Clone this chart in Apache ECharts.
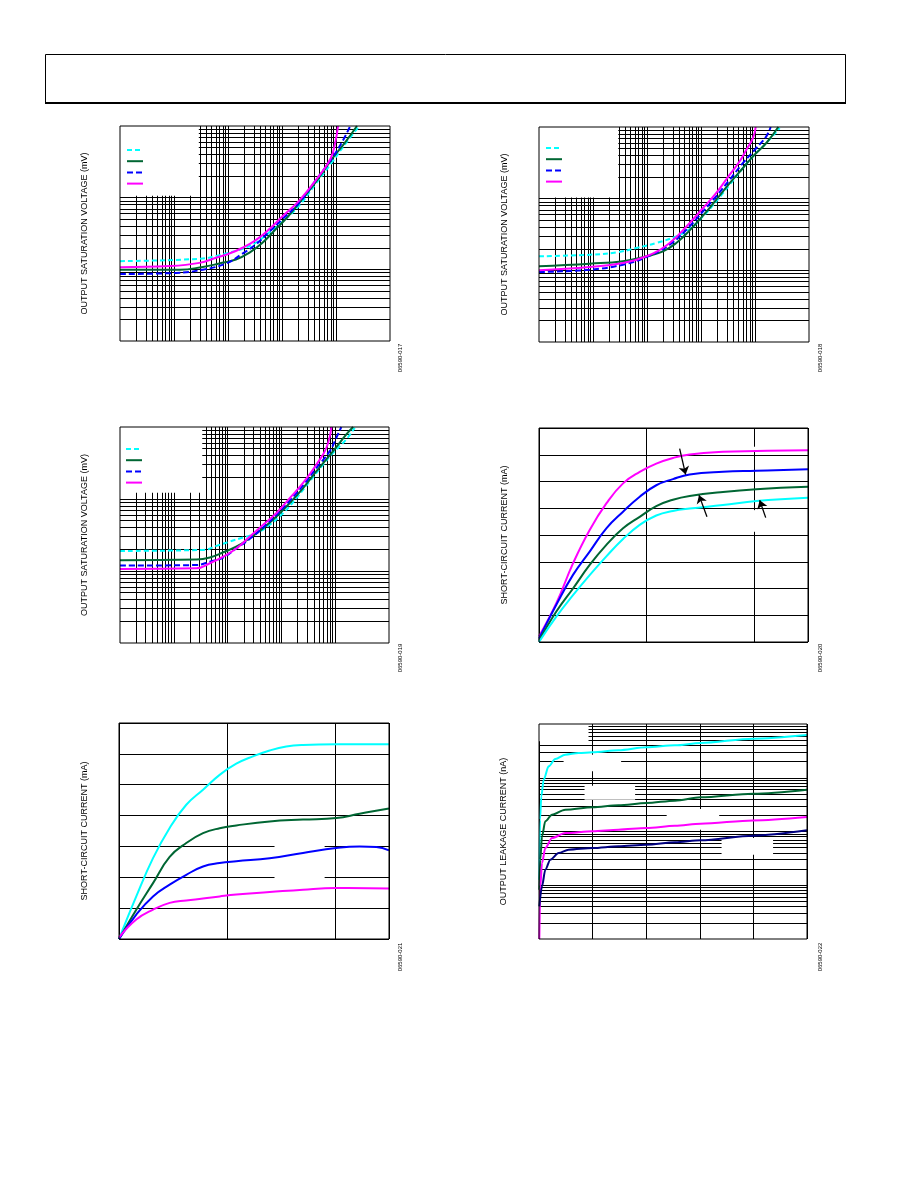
<!DOCTYPE html>
<html><head><meta charset="utf-8">
<script src="https://cdn.jsdelivr.net/npm/echarts@6/dist/echarts.min.js"></script>
<style>html,body{margin:0;padding:0;background:#fff}#c{width:918px;height:1188px}</style>
</head><body><div id="c"></div>
<script>
// ---------------- DATA ----------------
// Chart 1: output saturation voltage (mV) vs load current (mA), log-log
const vsat1Cyan    = [[0.001,13.0],[0.0296,14.0],[0.06,15.3],[0.0918,16.6],[0.186,19.4],[0.327,23.5],[0.577,32.5],[1.01,45.8],[2.06,76.9],[4.17,155],[8.44,312],[14.9,564],[26.1,967]];
const vsat1Green   = [[0.001,9.9],[0.0127,9.9],[0.0342,10.8],[0.0692,12.05],[0.14,13.7],[0.247,17.0],[0.435,23.5],[0.764,36.2],[1.35,56.9],[2.37,95.3],[4.17,163],[8.44,347],[14.9,596],[24.4,1000]];
const vsat1Blue    = [[0.001,8.6],[0.011,8.9],[0.0342,9.9],[0.0918,12.05],[0.186,16.6],[0.327,22.3],[0.577,33.2],[1.01,50],[2.06,83.8],[4.17,173],[8.44,355],[12.9,596],[18.4,1000]];
const vsat1Magenta = [[0.001,10.7],[0.0083,11.1],[0.0296,12.3],[0.06,14.5],[0.106,16.6],[0.186,20],[0.327,25.6],[0.577,36.2],[1.01,54.5],[2.06,90.4],[4.17,173],[7.87,347],[9.72,596],[10.9,1000]];
// Chart 2
const vsat2Cyan    = [[0.001,15.7],[0.0087,16.5],[0.027,17.8],[0.0634,20.5],[0.149,24.1],[0.349,29.8],[0.617,37.7],[1.09,56.7],[1.92,91.8],[3.40,157],[6.0,268],[9.19,390],[16.2,598],[28.6,968]];
const vsat2Green   = [[0.001,11.4],[0.0087,12.4],[0.0359,13.4],[0.0972,15.7],[0.198,18.4],[0.349,24.1],[0.617,36.1],[1.09,57.9],[1.92,96.8],[3.40,165],[6.0,268],[9.19,390],[16.2,598],[27.0,1000]];
const vsat2Blue    = [[0.001,9.48],[0.0087,10.2],[0.0359,12.0],[0.0972,15.3],[0.263,22.8],[0.617,41.1],[1.09,66.6],[1.92,108],[3.40,184],[6.0,315],[10.6,509],[16.2,741],[19.5,1000]];
const vsat2Magenta = [[0.001,10],[0.0087,11.1],[0.0359,12.7],[0.0972,15.7],[0.263,24.1],[0.617,45.8],[1.09,74.1],[1.92,120],[3.40,216],[5.2,332],[6.92,483],[9.19,703],[10.3,1000]];
// Chart 3
const vsat3Cyan    = [[0.001,19.0],[0.0352,19.6],[0.0623,22.3],[0.110,25.7],[0.195,29.2],[0.344,33.5],[0.609,43.9],[1.08,63.8],[1.91,103],[3.37,176],[5.95,301],[9.13,438],[16.1,673],[23.0,979]];
const vsat3Green   = [[0.001,14.1],[0.0265,14.4],[0.0469,15.4],[0.0829,18.2],[0.147,21.9],[0.259,28.6],[0.458,39.4],[0.810,57.3],[1.43,87.9],[2.53,142],[4.48,243],[9.13,462],[16.1,790],[21.5,1000]];
const vsat3Blue    = [[0.001,11.9],[0.0265,12.1],[0.0469,13.5],[0.0829,15.4],[0.147,20.7],[0.259,28.0],[0.458,40.2],[0.810,60.4],[1.43,94.8],[2.53,155],[4.48,271],[7.92,462],[10.5,710],[13.0,1000]];
const vsat3Magenta = [[0.001,10.7],[0.0265,10.9],[0.0469,12.8],[0.0829,15.8],[0.147,20.7],[0.259,30.1],[0.458,43.9],[0.810,63.8],[1.43,103],[2.53,167],[4.48,301],[6.87,515],[8.50,1000]];
// Chart 4: short-circuit current (mA), linear
const isc1Magenta = [[0,2.1],[0.161,14.5],[0.316,29.4],[0.471,41.9],[0.626,51.8],[0.781,59.3],[0.936,63.6],[1.090,66.7],[1.245,68.8],[1.400,70.1],[1.710,71.1],[2.020,71.4],[2.5,71.7]];
const isc1Blue    = [[0,1.2],[0.161,13.9],[0.316,25.1],[0.471,33.8],[0.626,42.5],[0.781,48.7],[0.936,54.3],[1.090,58.6],[1.245,60.9],[1.400,62.6],[1.710,63.6],[2.020,64.0],[2.5,64.6]];
const isc1Green   = [[0,0.5],[0.161,11.4],[0.316,20.0],[0.471,28.8],[0.626,36.3],[0.781,42.5],[0.936,46.8],[1.090,50.8],[1.245,53.2],[1.400,54.6],[1.710,56.1],[2.020,57.1],[2.5,58.0]];
const isc1Cyan    = [[0,0],[0.161,9.5],[0.316,17.5],[0.471,25.0],[0.626,32.0],[0.781,38.5],[0.936,43.8],[1.090,47.3],[1.245,49.0],[1.400,49.9],[1.710,51.2],[2.020,52.7],[2.5,53.9]];
const isc1Arrows  = [[[1.307,72.3],[1.363,62.6]],[[1.561,46.8],[1.487,54.9]],[[2.107,46.5],[2.051,53.0]]];
// Chart 5: short-circuit current (mA), linear
const isc2Cyan    = [[0,0],[0.160,13.8],[0.315,26.2],[0.469,36.0],[0.623,43.5],[0.778,48.4],[0.932,53.2],[1.086,56.8],[1.241,59.2],[1.395,61.1],[1.549,62.4],[1.704,62.9],[2.012,63.1],[2.5,63.1]];
const isc2Green   = [[0,0],[0.160,9.5],[0.315,18.1],[0.469,26.6],[0.623,31.1],[0.778,34.3],[0.932,35.9],[1.086,36.8],[1.395,38.1],[1.704,38.7],[2.012,39.2],[2.228,40.6],[2.5,42.3]];
const isc2Blue    = [[0,0],[0.160,7.9],[0.315,13.8],[0.469,17.6],[0.623,20.8],[0.778,23.5],[0.932,24.6],[1.086,25.2],[1.395,26.2],[1.704,27.9],[2.012,29.5],[2.228,30.0],[2.383,29.8],[2.5,28.7]];
const isc2Magenta = [[0,0.5],[0.160,6.3],[0.315,9.5],[0.469,11.7],[0.623,12.5],[0.778,13.1],[0.932,13.8],[1.086,14.4],[1.395,15.2],[1.704,16.0],[2.012,16.5],[2.5,16.4]];
// Chart 6: output leakage current (nA), log y
const leakCyan    = [[0.062,12.7],[0.186,166],[0.434,451],[0.868,921],[1.80,1630],[3.04,2233],[4.90,2688],[7.38,2886],[9.99,2969],[14.83,3236],[20.04,3681],[25.37,4010],[30.15,4433],[39.95,5336],[50,6240]];
const leakGreen   = [[0.062,8.28],[0.248,29.9],[0.558,81.3],[1.18,155],[2.42,206],[4.90,255],[9.99,282],[14.83,307],[20.04,339],[25.37,375],[30.15,432],[39.95,506],[50,600]];
const leakMagenta = [[0.062,1.0],[0.248,9.55],[0.558,25.9],[1.18,49.3],[2.42,75.7],[4.90,93.8],[9.99,101],[14.83,108],[20.04,116],[25.37,128],[30.15,140],[39.95,161],[50,186]];
const leakNavy    = [[0.062,4.05],[0.558,9.55],[1.18,19.5],[2.11,29.9],[3.66,39.8],[5.52,45.9],[9.99,49.3],[14.83,53.0],[20.04,56.9],[25.37,63],[30.15,68.5],[39.95,83.6],[50,105]];

// Text
const yTitles = ['OUTPUT SATURATION VOLTAGE (mV)','OUTPUT SATURATION VOLTAGE (mV)','OUTPUT SATURATION VOLTAGE (mV)','SHORT-CIRCUIT CURRENT (mA)','SHORT-CIRCUIT CURRENT (mA)','OUTPUT LEAKAGE CURRENT (nA)'];
const figureIds = ['06590-017','06590-018','06590-019','06590-020','06590-021','06590-022'];

// ---------------- LAYOUT / STYLE ----------------
const FONT = 'Liberation Sans, Arial, Helvetica, sans-serif';
const CYAN='#00FFFF', GREEN='#006633', BLUE='#0000FF', MAGENTA='#FF00FF', NAVY='#000080';
const gridBoxes = [
  {left:120, top:126, width:270, height:215},
  {left:539, top:127, width:270, height:215},
  {left:120, top:427, width:269, height:216},
  {left:539, top:428, width:269, height:214},
  {left:119, top:723, width:270, height:216},
  {left:539, top:724, width:268, height:215}
];
const nameGaps = [31, 30, 31, 30, 30, 31];
const idPos = [[400,358],[820,358],[400,658],[820,658],[400,957],[820,957]];
// white label masks (blank label areas) in data coordinates [x1,y1,x2,y2]
const masks = {
  0: [[0.001,106,0.0288,1000]],
  1: [[0.001,104,0.0294,1000]],
  2: [[0.001,122,0.0338,1000]],
  3: [[1.98,41.2,2.02,49.3],[1.98,71.6,2.02,73.0]],
  4: [[1.44,19.5,1.904,30.5]],
  5: [[0,4760,9.24,10000],[4.59,1316,15.32,2690],[8.50,391,17.93,713],[23.82,108,33.62,262],[34.06,37.1,43.67,75.7]]
};

function logGridValues(minExp, maxExp, minorMaxExp) {
  const v = [];
  for (let e = minExp; e < maxExp; e++) {
    const base = Math.pow(10, e);
    if (e > minExp) v.push(+base.toPrecision(6));
    if (e < minorMaxExp) for (let m = 2; m <= 9; m++) v.push(+(m * base).toPrecision(6));
  }
  return v;
}

function curve(name, data, color, dash, gi, monotone) {
  const s = {name, type:'line', xAxisIndex:gi, yAxisIndex:gi, data, smooth: monotone ? 0.3 : 0.45,
    symbol:'none', showSymbol:false, z:3, silent:true, animation:false, clip:true,
    lineStyle:{color, width:2, type: dash || 'solid', cap:'butt'}, itemStyle:{color},
    emphasis:{disabled:true}};
  if (monotone) s.smoothMonotone = 'x';
  return s;
}
function gridLines(gi, xs, ys) {
  return {type:'line', xAxisIndex:gi, yAxisIndex:gi, data:[], z:1, silent:true, animation:false,
    markLine:{z:1, silent:true, animation:false, precision:12, symbol:['none','none'], label:{show:false},
      emphasis:{disabled:true}, lineStyle:{color:'#000', width:1, type:'solid', opacity:1},
      data:[...xs.map(v => ({xAxis:v})), ...ys.map(v => ({yAxis:v}))]}};
}
function maskSeries(gi) {
  return {type:'custom', xAxisIndex:gi, yAxisIndex:gi, z:2, silent:true, animation:false, clip:true,
    data: masks[gi], encode:{x:[0,2], y:[1,3]},
    renderItem: (params, api) => {
      const p1 = api.coord([api.value(0), api.value(1)]);
      const p2 = api.coord([api.value(2), api.value(3)]);
      return {type:'rect', silent:true,
        shape:{x:Math.min(p1[0],p2[0]), y:Math.min(p1[1],p2[1]), width:Math.abs(p2[0]-p1[0]), height:Math.abs(p2[1]-p1[1])},
        style:{fill:'#ffffff', stroke:null}};
    }};
}

const grid = gridBoxes.map(g => Object.assign({show:true, borderColor:'#000', borderWidth:1,
  backgroundColor:'transparent', z:10, containLabel:false, outerBoundsMode:'none'}, g));

const hidden = {axisLine:{show:false}, axisTick:{show:false}, axisLabel:{show:false}};
const blackSplit = {show:true, lineStyle:{color:'#000', width:1}};
const xAxis = [], yAxis = [];
for (let i = 0; i < 3; i++) {
  xAxis.push(Object.assign({type:'log', logBase:10, min:0.001, max:100, gridIndex:i, splitLine:{show:false}}, hidden));
}
xAxis.push(Object.assign({type:'value', min:0, max:2.5, interval:1, gridIndex:3, splitLine:blackSplit}, hidden));
xAxis.push(Object.assign({type:'value', min:0, max:2.5, interval:1, gridIndex:4, splitLine:blackSplit}, hidden));
xAxis.push(Object.assign({type:'value', min:0, max:50, interval:10, gridIndex:5, splitLine:blackSplit}, hidden));
const yCfg = [
  {type:'log', logBase:10, min:1, max:1000, splitLine:{show:false}},
  {type:'log', logBase:10, min:1, max:1000, splitLine:{show:false}},
  {type:'log', logBase:10, min:1, max:1000, splitLine:{show:false}},
  {type:'value', min:0, max:80, interval:10, splitLine:blackSplit},
  {type:'value', min:0, max:70, interval:10, splitLine:blackSplit},
  {type:'log', logBase:10, min:1, max:10000, splitLine:{show:false}}
];
yCfg.forEach((c, i) => {
  yAxis.push(Object.assign({gridIndex:i, name:yTitles[i], nameLocation:'middle', nameGap:nameGaps[i],
    nameTextStyle:{fontFamily:FONT, fontSize:9, color:'#000'}}, hidden, c));
});

const satX = logGridValues(-3, 2, 1);
const satY = logGridValues(0, 3, 3);
const leakY = logGridValues(0, 4, 4);

const series = [];
series.push(gridLines(0, satX, satY), gridLines(1, satX, satY), gridLines(2, satX, satY), gridLines(5, [], leakY));
for (let i = 0; i < 6; i++) series.push(maskSeries(i));
const satSets = [
  [vsat1Cyan, vsat1Green, vsat1Blue, vsat1Magenta],
  [vsat2Cyan, vsat2Green, vsat2Blue, vsat2Magenta],
  [vsat3Cyan, vsat3Green, vsat3Blue, vsat3Magenta]
];
const satStyles = [[CYAN,[5,3]],[GREEN,null],[BLUE,[6,3]],[MAGENTA,null]];
const legendNames = [];
satSets.forEach((set, gi) => {
  const names = [];
  set.forEach((d, k) => {
    const nm = 'fig' + (gi + 1) + '-trace' + (k + 1);
    names.push({name:nm, lineStyle:{color:satStyles[k][0], width:2, type:satStyles[k][1] || 'solid', opacity:1}, itemStyle:{opacity:0}});
    series.push(curve(nm, d, satStyles[k][0], satStyles[k][1], gi, false));
  });
  legendNames.push(names);
});
series.push(curve('fig4-magenta', isc1Magenta, MAGENTA, null, 3, false));
series.push(curve('fig4-blue', isc1Blue, BLUE, null, 3, false));
series.push(curve('fig4-green', isc1Green, GREEN, null, 3, false));
series.push(curve('fig4-cyan', isc1Cyan, CYAN, null, 3, false));
series.push({type:'line', xAxisIndex:3, yAxisIndex:3, data:[], z:4, silent:true, animation:false,
  markLine:{z:5, silent:true, animation:false, precision:12, symbol:['none','arrow'], symbolSize:8, label:{show:false},
    emphasis:{disabled:true}, lineStyle:{color:'#000', width:1.3, type:'solid'}, itemStyle:{color:'#000'},
    data: isc1Arrows.map(a => [{coord:a[0]}, {coord:a[1]}])}});
series.push(curve('fig5-cyan', isc2Cyan, CYAN, null, 4, false));
series.push(curve('fig5-green', isc2Green, GREEN, null, 4, false));
series.push(curve('fig5-blue', isc2Blue, BLUE, null, 4, false));
series.push(curve('fig5-magenta', isc2Magenta, MAGENTA, null, 4, false));
series.push(curve('fig6-cyan', leakCyan, CYAN, null, 5, true));
series.push(curve('fig6-green', leakGreen, GREEN, null, 5, true));
series.push(curve('fig6-magenta', leakMagenta, MAGENTA, null, 5, true));
series.push(curve('fig6-navy', leakNavy, NAVY, null, 5, true));

const legendPos = [[126,146],[545,144],[125,445]];
const legend = legendNames.map((names, i) => ({
  data: names, orient:'vertical', left:legendPos[i][0], top:legendPos[i][1], padding:0, z:6,
  itemWidth:16, itemHeight:8, itemGap:4, selectedMode:false, formatter: () => '',
  textStyle:{fontSize:1}, itemStyle:{opacity:0}, lineStyle:{width:2}
}));

const graphic = [
  {type:'rect', shape:{x:45.5, y:54.5, width:800, height:48}, style:{fill:'none', stroke:'#000', lineWidth:1}, silent:true},
  {type:'line', shape:{x1:45, y1:103, x2:846, y2:103}, style:{stroke:'#000', lineWidth:2}, silent:true}
];
figureIds.forEach((t, i) => {
  graphic.push({type:'text', x:idPos[i][0], y:idPos[i][1], rotation:Math.PI/2, silent:true,
    style:{text:t, fontSize:6, fontFamily:FONT, fill:'#000', align:'center', verticalAlign:'middle'}});
});

const chart = echarts.init(document.getElementById('c'), null, {renderer:'canvas', width:918, height:1188});
chart.setOption({
  animation:false, backgroundColor:'#fff', textStyle:{fontFamily:FONT},
  grid, xAxis, yAxis, legend, series, graphic, tooltip:{show:false}
});
</script></body></html>
